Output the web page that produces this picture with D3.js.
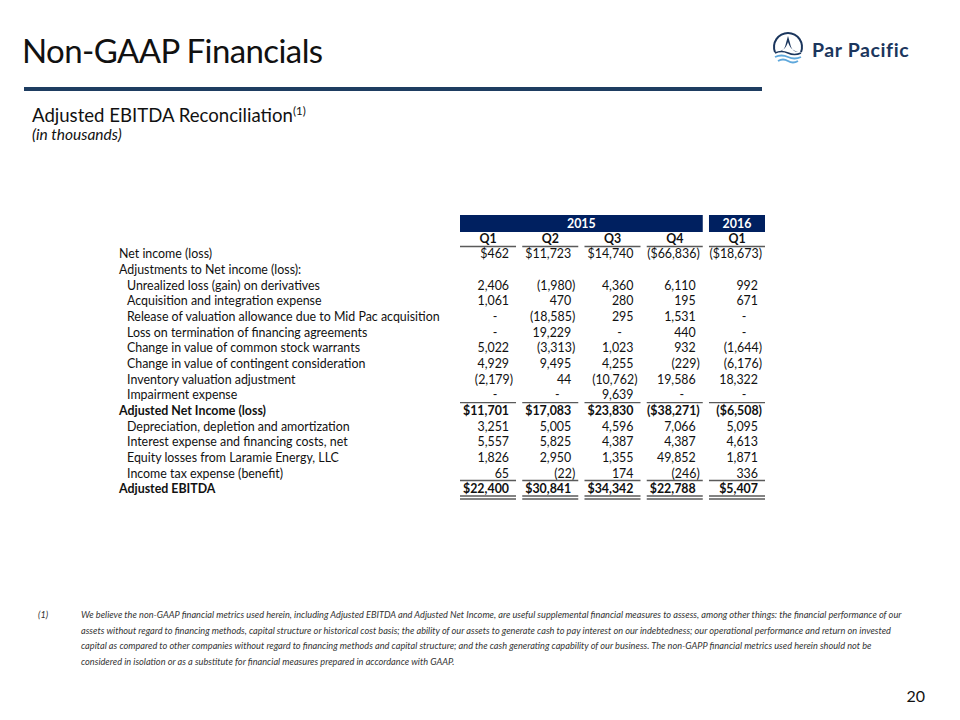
<!DOCTYPE html>
<html><head><meta charset="utf-8">
<script src="https://cdn.jsdelivr.net/npm/d3@7"></script>
<style>
html,body{margin:0;padding:0;background:#fff;}
svg{display:block;font-family:Lato,"Open Sans",sans-serif;}
</style></head>
<body>
<svg id="c" width="960" height="720"></svg>
<script>
// ---- data ----
const yearLabels = ["2015", "2016"];
const yearSpans = [4, 1];
const quarters = ["Q1", "Q2", "Q3", "Q4", "Q1"];
const rowLabels = [
  "Net income (loss)",
  "Adjustments to Net income (loss):",
  "Unrealized loss (gain) on derivatives",
  "Acquisition and integration expense",
  "Release of valuation allowance due to Mid Pac acquisition",
  "Loss on termination of financing agreements",
  "Change in value of common stock warrants",
  "Change in value of contingent consideration",
  "Inventory valuation adjustment",
  "Impairment expense",
  "Adjusted Net Income (loss)",
  "Depreciation, depletion and amortization",
  "Interest expense and financing costs, net",
  "Equity losses from Laramie Energy, LLC",
  "Income tax expense (benefit)",
  "Adjusted EBITDA"
];
const rowIndent = [0,0,1,1,1,1,1,1,1,1,0,1,1,1,1,0];
const rowBold   = [0,0,0,0,0,0,0,0,0,0,1,0,0,0,0,1];
const rowDollar = [1,0,0,0,0,0,0,0,0,0,1,0,0,0,0,1];
// values in thousands; null = "-" ; undefined = blank cell
const netIncome      = [462, 11723, 14740, -66836, -18673];
const adjustments    = [undefined, undefined, undefined, undefined, undefined];
const unrealized     = [2406, -1980, 4360, 6110, 992];
const acquisition    = [1061, 470, 280, 195, 671];
const releaseVal     = [null, -18585, 295, 1531, null];
const lossTermin     = [null, 19229, null, 440, null];
const warrants       = [5022, -3313, 1023, 932, -1644];
const contingent     = [4929, 9495, 4255, -229, -6176];
const inventory      = [-2179, 44, -10762, 19586, 18322];
const impairment     = [null, null, 9639, null, null];
const adjNetIncome   = [11701, 17083, 23830, -38271, -6508];
const depreciation   = [3251, 5005, 4596, 7066, 5095];
const interest       = [5557, 5825, 4387, 4387, 4613];
const equityLosses   = [1826, 2950, 1355, 49852, 1871];
const incomeTax      = [65, -22, 174, -246, 336];
const adjEbitda      = [22400, 30841, 34342, 22788, 5407];
const rowValues = [netIncome, adjustments, unrealized, acquisition, releaseVal, lossTermin,
  warrants, contingent, inventory, impairment, adjNetIncome, depreciation, interest,
  equityLosses, incomeTax, adjEbitda];
const footnoteLines = [
  "We believe the non-GAAP financial metrics used herein, including Adjusted EBITDA and Adjusted Net Income, are useful supplemental financial measures to assess,  among other things: the financial performance of our",
  "assets without regard to financing methods, capital structure or historical cost basis; the ability of our assets to generate cash to pay interest on our indebtedness; our operational performance and return on invested",
  "capital as compared to other companies without regard to financing methods and capital structure; and the cash generating capability of our business. The non-GAPP financial metrics used herein should not be",
  "considered in isolation or as a substitute for financial measures prepared in accordance with GAAP."
];

// ---- drawing ----
const svg = d3.select("#c");
const navy = "#002060";
const ruleColor = "#1e3d61";
const textColor = "#111111";
const lineGray = "#5a5a5a";

// title
svg.append("text").attr("x", 22).attr("y", 63).attr("font-size", 33).attr("letter-spacing", -0.6)
  .attr("fill", textColor).text("Non-GAAP Financials");
svg.append("rect").attr("x", 24).attr("y", 87).attr("width", 738).attr("height", 4).attr("fill", ruleColor);

// logo
const logo = svg.append("g").attr("transform", "translate(788,47)");
const arcTop = d3.arc().innerRadius(13).outerRadius(15).startAngle(-Math.PI*0.62).endAngle(Math.PI*0.62);
logo.append("path").attr("d", arcTop()).attr("fill", "#1b365d");
logo.append("path").attr("d", "M-10,5 C-6,5 -3,2 -2,-4 L0,-11 L2,-4 C3,2 6,5 10,5 C4,3 2,1 0,-5 C-2,1 -4,3 -10,5 Z")
  .attr("fill", "#1b365d");
logo.append("path").attr("d", "M-13,6 Q-6.5,3 0,6 Q6.5,9 13,6").attr("fill", "none").attr("stroke", "#1b365d").attr("stroke-width", 1.6);
logo.append("path").attr("d", "M-13,10 Q-6.5,7 0,10 Q6.5,13 13,10").attr("fill", "none").attr("stroke", "#5fa8dc").attr("stroke-width", 1.9);
logo.append("path").attr("d", "M-10,14 Q-5,11 0,14 Q5,17 10,14").attr("fill", "none").attr("stroke", "#5fa8dc").attr("stroke-width", 1.9);
svg.append("text").attr("x", 812).attr("y", 57).attr("font-size", 19.5).attr("font-weight", 700)
  .attr("letter-spacing", 0.6).attr("fill", "#1b365d").text("Par Pacific");

// subtitle
const sub = svg.append("text").attr("x", 32).attr("y", 122).attr("font-size", 18.6).attr("fill", textColor);
sub.append("tspan").text("Adjusted EBITDA Reconciliation");
sub.append("tspan").attr("font-size", 11.5).attr("dy", -7.5).text("(1)");
svg.append("text").attr("x", 32).attr("y", 140).attr("font-size", 15.5).attr("font-style", "italic")
  .attr("fill", textColor).text("(in thousands)");

// scales
const x = d3.scaleBand().domain(d3.range(quarters.length)).range([460, 765]).paddingInner(0.1).paddingOuter(0);
const y = d3.scalePoint().domain(d3.range(rowLabels.length)).range([254, 489]);
const bw = x.bandwidth();
const fs = 12.4;

// year header bands
let start = 0;
yearLabels.forEach((lab, i) => {
  const x0 = x(start), x1 = x(start + yearSpans[i] - 1) + bw;
  svg.append("rect").attr("x", x0).attr("y", 215).attr("width", x1 - x0).attr("height", 17).attr("fill", navy);
  svg.append("text").attr("x", (x0 + x1) / 2).attr("y", 223.5).attr("dy", "0.35em")
    .attr("text-anchor", "middle").attr("font-size", fs).attr("font-weight", 700).attr("fill", "#fff").text(lab);
  start += yearSpans[i];
});

// quarter labels + underline
svg.selectAll("text.q").data(quarters).join("text").attr("class", "q")
  .attr("x", (d, i) => x(i) + bw / 2).attr("y", 239).attr("dy", "0.35em")
  .attr("text-anchor", "middle").attr("font-size", fs).attr("font-weight", 700).attr("fill", textColor).text(d => d);

function segLines(yy) {
  svg.append("g").selectAll("line").data(quarters).join("line")
    .attr("x1", (d, i) => x(i)).attr("x2", (d, i) => x(i) + bw)
    .attr("y1", yy).attr("y2", yy).attr("stroke", lineGray).attr("stroke-width", 1.3);
}
segLines(246.5);
segLines(y(10) - 8);
segLines(y(15) - 8.5);
segLines(y(15) + 7);
segLines(y(15) + 10);

// row labels
svg.selectAll("text.lab").data(rowLabels).join("text").attr("class", "lab")
  .attr("x", (d, i) => rowIndent[i] ? 127 : 119).attr("y", (d, i) => y(i)).attr("dy", "0.35em")
  .attr("font-size", fs).attr("font-weight", (d, i) => rowBold[i] ? 700 : 400)
  .attr("fill", textColor).text(d => d);

// values
const fmt = d3.format(",");
const cells = [];
rowValues.forEach((vals, r) => vals.forEach((v, c) => {
  if (v === undefined) return;
  cells.push({ r, c, v });
}));
svg.selectAll("text.val").data(cells).join("text").attr("class", "val")
  .attr("x", d => {
    const right = x(d.c) + bw;
    if (d.v === null) return right - 21;
    return d.v < 0 ? right - 3 : right - 7;
  })
  .attr("y", d => y(d.r)).attr("dy", "0.35em")
  .attr("text-anchor", d => d.v === null ? "middle" : "end")
  .attr("font-size", fs).attr("font-weight", d => rowBold[d.r] ? 700 : 400).attr("fill", textColor)
  .text(d => {
    if (d.v === null) return "-";
    const s = (rowDollar[d.r] ? "$" : "") + fmt(Math.abs(d.v));
    return d.v < 0 ? "(" + s + ")" : s;
  });

// footnote
const fnY = 618, fnStep = 15.5;
svg.append("text").attr("x", 38).attr("y", fnY).attr("font-size", 9.2).attr("font-style", "italic")
  .attr("fill", "#333").text("(1)");
svg.selectAll("text.fn").data(footnoteLines).join("text").attr("class", "fn")
  .attr("x", 81).attr("y", (d, i) => fnY + i * fnStep).attr("font-size", 9.2).attr("font-style", "italic")
  .attr("fill", "#333").text(d => d);

// page number
svg.append("text").attr("x", 925).attr("y", 702).attr("text-anchor", "end").attr("font-size", 16)
  .attr("fill", textColor).text("20");
</script>
</body></html>
